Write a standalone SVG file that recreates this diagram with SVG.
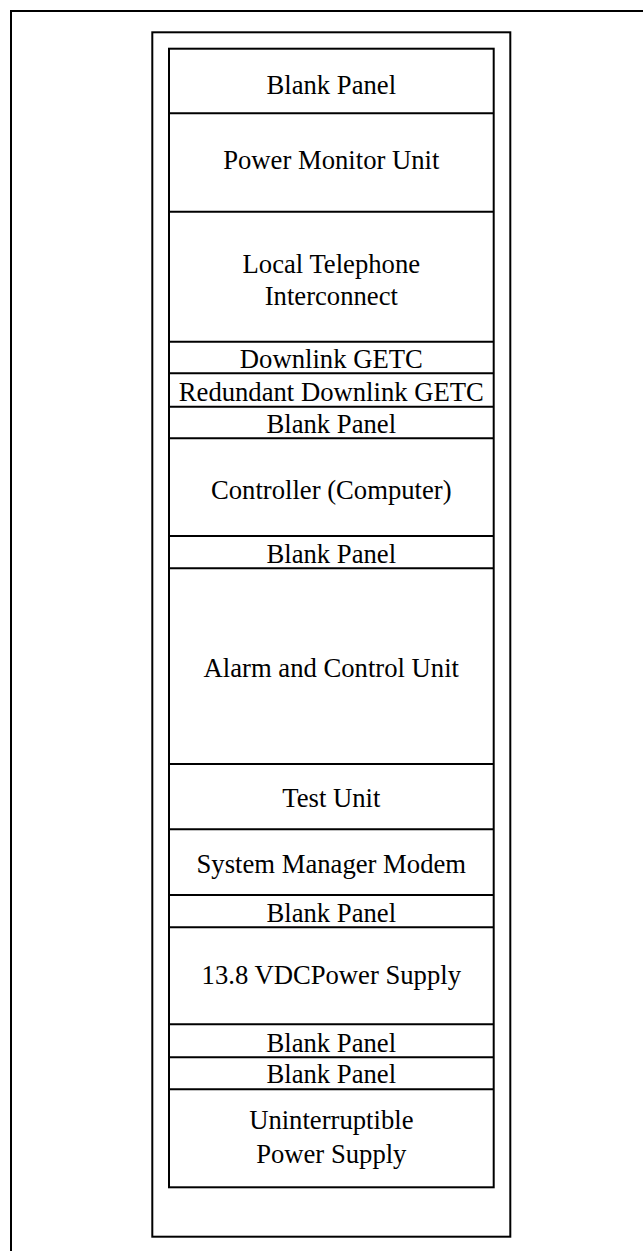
<svg xmlns="http://www.w3.org/2000/svg" width="643" height="1251" viewBox="0 0 643 1251">
<style>
.ln{fill:none;stroke:#000;stroke-width:2}
.t{font-family:"Liberation Serif","Times New Roman",serif;font-size:26.67px;fill:#000;text-anchor:middle}
</style>
<rect width="643" height="1251" fill="#fff"/>
<g id="frame">
<rect class="ln" x="11" y="11" width="640" height="1250"/>
<rect class="ln" x="152.3" y="32.3" width="358" height="1204.4" stroke-width="1.8"/>
<rect class="ln" x="169" y="48.7" width="324.7" height="1138.6"/>
</g>
<g id="connectors"></g>
<g id="n1"><text class="t" x="331.3" y="93.5">Blank Panel</text></g>
<g id="n2"><text class="t" x="331.3" y="169">Power Monitor Unit</text></g>
<g id="n3"><text class="t" x="331.3" y="273">Local Telephone</text><text class="t" x="331.3" y="305">Interconnect</text></g>
<g id="n4"><text class="t" x="331.3" y="367.7">Downlink GETC</text></g>
<g id="n5"><text class="t" x="331.3" y="400.7">Redundant Downlink GETC</text></g>
<g id="n6"><text class="t" x="331.3" y="432.7">Blank Panel</text></g>
<g id="n7"><text class="t" x="331.3" y="499">Controller (Computer)</text></g>
<g id="n8"><text class="t" x="331.3" y="563">Blank Panel</text></g>
<g id="n9"><text class="t" x="331.3" y="677">Alarm and Control Unit</text></g>
<g id="n10"><text class="t" x="331.3" y="807">Test Unit</text></g>
<g id="n11"><text class="t" x="331.3" y="873">System Manager Modem</text></g>
<g id="n12"><text class="t" x="331.3" y="921.7">Blank Panel</text></g>
<g id="n13"><text class="t" x="331.3" y="984">13.8 VDCPower Supply</text></g>
<g id="n14"><text class="t" x="331.3" y="1051.7">Blank Panel</text></g>
<g id="n15"><text class="t" x="331.3" y="1082.7">Blank Panel</text></g>
<g id="n16"><text class="t" x="331.3" y="1128.5">Uninterruptible</text><text class="t" x="331.3" y="1163">Power Supply</text></g>
<g id="dividers">
<line class="ln" x1="169" y1="113.3" x2="493.7" y2="113.3"/>
<line class="ln" x1="169" y1="211.7" x2="493.7" y2="211.7"/>
<line class="ln" x1="169" y1="341.7" x2="493.7" y2="341.7"/>
<line class="ln" x1="169" y1="373.3" x2="493.7" y2="373.3"/>
<line class="ln" x1="169" y1="406.7" x2="493.7" y2="406.7"/>
<line class="ln" x1="169" y1="438.3" x2="493.7" y2="438.3"/>
<line class="ln" x1="169" y1="536" x2="493.7" y2="536"/>
<line class="ln" x1="169" y1="568.3" x2="493.7" y2="568.3"/>
<line class="ln" x1="169" y1="764" x2="493.7" y2="764"/>
<line class="ln" x1="169" y1="829.3" x2="493.7" y2="829.3"/>
<line class="ln" x1="169" y1="895" x2="493.7" y2="895"/>
<line class="ln" x1="169" y1="927.3" x2="493.7" y2="927.3"/>
<line class="ln" x1="169" y1="1024.3" x2="493.7" y2="1024.3"/>
<line class="ln" x1="169" y1="1057.3" x2="493.7" y2="1057.3"/>
<line class="ln" x1="169" y1="1089.3" x2="493.7" y2="1089.3"/>
</g>
</svg>
